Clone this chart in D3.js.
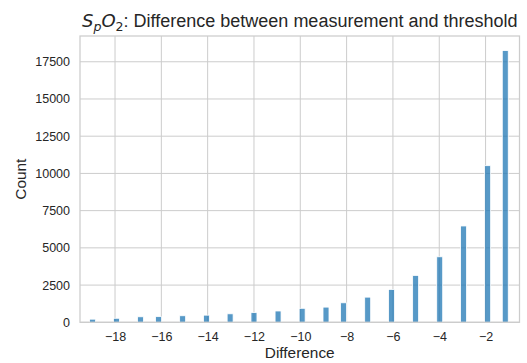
<!DOCTYPE html>
<html>
<head>
<meta charset="utf-8">
<script src="https://cdn.jsdelivr.net/npm/d3@7"></script>
<style>
  html, body { margin: 0; padding: 0; background: #fff; }
  svg { display: block; }
  text { font-family: "Liberation Sans", Arial, sans-serif; fill: #262626; }
</style>
</head>
<body>
<svg id="chart" width="527" height="363"></svg>
<script>
// Bin centres (Difference) and counts
const binCenters = [-18.97, -17.94, -16.90, -16.12, -15.08, -14.05, -13.03, -12.00, -10.96, -9.92,
                    -8.89, -8.13, -7.09, -6.06, -5.02, -3.98, -2.95, -1.91, -1.15];
const counts = [210, 270, 370, 380, 440, 480, 570, 650, 760, 940,
                1020, 1310, 1690, 2210, 3150, 4400, 6470, 10520, 18250];
const binWidth = 0.258;
const xTicks = [-18, -16, -14, -12, -10, -8, -6, -4, -2];
const yTicks = [0, 2500, 5000, 7500, 10000, 12500, 15000, 17500];
const xDomain = [-19.512, -0.535];
const yMax = 19230;

const W = 527, H = 363;
const margin = { top: 36, right: 7.5, bottom: 40.7, left: 80 };
const svg = d3.select("#chart");

const x = d3.scaleLinear().domain(xDomain).range([margin.left, W - margin.right]);
const y = d3.scaleLinear().domain([0, yMax]).range([H - margin.bottom, margin.top]);

const gridColor = "#cccccc";

// Grid lines
svg.append("g").selectAll("line.gx").data(xTicks).join("line")
  .attr("x1", d => x(d)).attr("x2", d => x(d))
  .attr("y1", y(0)).attr("y2", y(yMax))
  .attr("stroke", gridColor).attr("stroke-width", 1);
svg.append("g").selectAll("line.gy").data(yTicks).join("line")
  .attr("x1", x(xDomain[0])).attr("x2", x(xDomain[1]))
  .attr("y1", d => y(d)).attr("y2", d => y(d))
  .attr("stroke", gridColor).attr("stroke-width", 1);

// Bars
svg.append("g").selectAll("rect").data(binCenters).join("rect")
  .attr("x", d => x(d - binWidth / 2))
  .attr("width", d => x(d + binWidth / 2) - x(d - binWidth / 2))
  .attr("y", (d, i) => y(counts[i]))
  .attr("height", (d, i) => y(0) - y(counts[i]))
  .attr("fill", "#1f77b4").attr("fill-opacity", 0.75)
  .attr("stroke", "#ffffff").attr("stroke-width", 0.8);

// Spines
svg.append("rect")
  .attr("x", x(xDomain[0])).attr("y", y(yMax))
  .attr("width", x(xDomain[1]) - x(xDomain[0]))
  .attr("height", y(0) - y(yMax))
  .attr("fill", "none").attr("stroke", gridColor).attr("stroke-width", 1.25);

// Axes (labels only, no tick marks)
const fmtMinus = d => (d < 0 ? "\u2212" + Math.abs(d) : String(d));
const xAxis = svg.append("g")
  .attr("transform", `translate(0,${y(0)})`)
  .call(d3.axisBottom(x).tickValues(xTicks).tickFormat(fmtMinus).tickSize(0).tickPadding(10));
const yAxis = svg.append("g")
  .attr("transform", `translate(${margin.left},0)`)
  .call(d3.axisLeft(y).tickValues(yTicks).tickFormat(d3.format("d")).tickSize(0).tickPadding(10));
[xAxis, yAxis].forEach(g => {
  g.select(".domain").remove();
  g.selectAll("text")
    .attr("fill", "#262626")
    .style("font-family", '"Liberation Sans", Arial, sans-serif')
    .style("font-size", "12.5px");
});

// Axis labels
svg.append("text")
  .attr("x", (x(xDomain[0]) + x(xDomain[1])) / 2).attr("y", 358.3)
  .attr("text-anchor", "middle").style("font-size", "15.4px")
  .text("Difference");
svg.append("text")
  .attr("transform", `translate(25.5,${(y(0) + y(yMax)) / 2}) rotate(-90)`)
  .attr("text-anchor", "middle").style("font-size", "15.4px")
  .text("Count");

// Title with math-style S_pO_2
const title = svg.append("text")
  .attr("x", (x(xDomain[0]) + x(xDomain[1])) / 2).attr("y", 27.3)
  .attr("text-anchor", "middle").style("font-size", "18px");
const mathFont = '"DejaVu Sans", sans-serif';
title.append("tspan").style("font-family", mathFont).style("font-style", "italic").text("S");
title.append("tspan").style("font-family", mathFont).style("font-style", "italic")
  .style("font-size", "12.6px").attr("dy", 3.5).text("p");
title.append("tspan").style("font-family", mathFont).style("font-style", "italic")
  .attr("dy", -3.5).text("O");
title.append("tspan").style("font-family", mathFont)
  .style("font-size", "12.6px").attr("dy", 3.5).text("2");
title.append("tspan").attr("dy", -3.5).text(": Difference between measurement and threshold");
</script>
</body>
</html>
